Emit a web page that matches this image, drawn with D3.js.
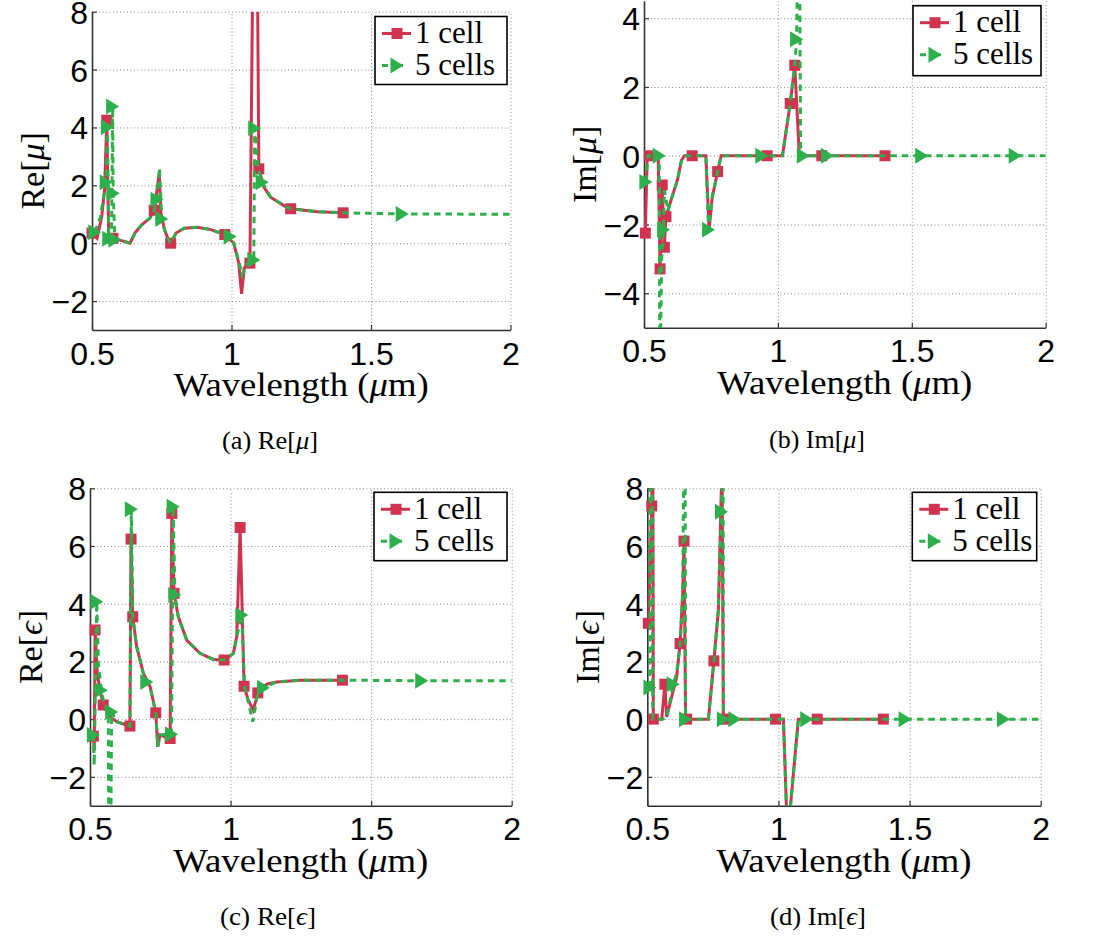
<!DOCTYPE html>
<html>
<head>
<meta charset="utf-8">
<script src="https://cdn.jsdelivr.net/npm/d3@7"></script>
<style>
body { margin: 0; background: #fff; }
svg { display: block; }
</style>
</head>
<body>
<script>
// tick values
var xTicks = [0.5, 1, 1.5, 2];
var muReTicks = [-2, 0, 2, 4, 6, 8];
var muImTicks = [-4, -2, 0, 2, 4];
var epsTicks = [-2, 0, 2, 4, 6, 8];
var seriesNames = ["1 cell", "5 cells"];

// [wavelength (um), value, marker shown?]  values > 8 / < -3 run off the axes
var reMu1 = [
  [0.500, 0.35, 1], [0.518, 0.17, 0], [0.535, 0.92, 0], [0.545, 1.84, 0], [0.553, 4.25, 1],
  [0.560, 0.12, 0], [0.575, 0.17, 1], [0.606, 0.09, 0], [0.636, 0.00, 0], [0.654, 0.35, 0],
  [0.677, 0.63, 0], [0.707, 0.86, 0], [0.723, 1.14, 1], [0.741, 2.40, 0], [0.747, 1.04, 0],
  [0.760, 0.46, 0], [0.772, 0.17, 0], [0.782, 0.00, 1], [0.801, 0.35, 0], [0.831, 0.52, 0],
  [0.878, 0.55, 0], [0.926, 0.47, 0], [0.976, 0.30, 1], [1.008, 0.00, 0], [1.026, -0.69, 0],
  [1.036, -1.75, 0], [1.046, -0.85, 0], [1.066, -0.69, 1], [1.079, 12, 0], [1.091, 12, 0],
  [1.098, 2.57, 1], [1.116, 1.94, 0], [1.140, 1.59, 0], [1.188, 1.30, 0], [1.212, 1.19, 1],
  [1.307, 1.09, 0], [1.400, 1.05, 1]
];
var reMu5 = [
  [0.510, 0.38, 1], [0.530, 0.90, 0], [0.545, 1.80, 0], [0.551, 2.11, 1], [0.555, 4.01, 1],
  [0.560, 0.15, 1], [0.570, 0.20, 0], [0.574, 4.72, 1], [0.576, 1.73, 1], [0.582, 0.12, 1],
  [0.606, 0.09, 0], [0.636, 0.00, 0], [0.654, 0.35, 0], [0.677, 0.63, 0], [0.707, 0.86, 0],
  [0.723, 1.14, 0], [0.733, 1.50, 1], [0.742, 2.60, 0], [0.750, 0.84, 1], [0.760, 0.46, 0],
  [0.772, 0.17, 0], [0.782, 0.00, 0], [0.801, 0.35, 0], [0.831, 0.52, 0], [0.878, 0.55, 0],
  [0.926, 0.47, 0], [0.976, 0.30, 0], [0.995, 0.23, 1], [1.008, 0.00, 0], [1.026, -0.60, 0],
  [1.038, -1.10, 0], [1.050, -0.78, 0], [1.068, -0.62, 0], [1.080, -0.58, 1], [1.083, 3.97, 1],
  [1.095, 2.60, 0], [1.110, 2.11, 1], [1.140, 1.59, 0], [1.188, 1.30, 0], [1.212, 1.19, 0],
  [1.307, 1.09, 0], [1.400, 1.05, 0], [1.612, 1.01, 1], [2.000, 1.00, 0]
];
var imMu1 = [
  [0.505, -2.25, 1], [0.512, 0.00, 0], [0.520, 0.00, 1], [0.553, 0.00, 0], [0.560, -3.29, 1],
  [0.568, -0.85, 1], [0.576, -2.66, 1], [0.582, -1.77, 1], [0.605, -1.19, 0], [0.625, -0.70, 0],
  [0.640, -0.13, 0], [0.651, 0.00, 0], [0.680, 0.00, 1], [0.731, 0.00, 0], [0.743, -2.15, 0],
  [0.755, -1.20, 0], [0.775, -0.46, 1], [0.788, 0.00, 0], [0.960, 0.00, 1], [1.017, 0.00, 0],
  [1.046, 1.52, 1], [1.063, 2.63, 1], [1.080, 0.00, 0], [1.164, 0.00, 1], [1.400, 0.00, 1]
];
var imMu5 = [
  [0.507, -0.76, 1], [0.515, 0.00, 0], [0.557, 0.00, 1], [0.559, -7, 0], [0.566, -3.00, 0],
  [0.573, -2.15, 1], [0.576, -1.00, 0], [0.590, -1.60, 0], [0.605, -1.19, 0], [0.625, -0.70, 0],
  [0.640, -0.13, 0], [0.651, 0.00, 0], [0.731, 0.00, 0], [0.741, -2.15, 1], [0.755, -1.20, 0],
  [0.775, -0.46, 0], [0.788, 0.00, 0], [0.940, 0.00, 1], [1.017, 0.00, 0], [1.046, 1.52, 0],
  [1.063, 2.63, 0], [1.070, 3.39, 1], [1.075, 7, 0], [1.080, 7, 0], [1.085, 0.00, 0],
  [1.095, 0.00, 1], [1.185, 0.00, 1], [1.537, 0.00, 1], [1.886, 0.00, 1], [2.000, 0.00, 0]
];
var reEps1 = [
  [0.512, -0.59, 1], [0.515, -1.10, 0], [0.518, 3.09, 1], [0.526, 1.58, 0], [0.536, 1.00, 0],
  [0.547, 0.49, 1], [0.571, 0.08, 0], [0.595, -0.09, 0], [0.642, -0.24, 1], [0.646, 6.24, 1],
  [0.652, 3.55, 1], [0.666, 2.51, 0], [0.690, 1.58, 0], [0.714, 1.12, 0], [0.734, 0.22, 1],
  [0.741, -0.96, 0], [0.749, -0.55, 0], [0.785, -0.67, 1], [0.791, 7.13, 1], [0.799, 4.36, 1],
  [0.814, 3.55, 0], [0.844, 2.74, 0], [0.891, 2.28, 0], [0.939, 2.07, 0], [0.977, 2.05, 1],
  [1.010, 2.28, 0], [1.022, 2.86, 0], [1.034, 6.64, 1], [1.048, 1.14, 1], [1.063, 0.66, 0],
  [1.081, 0.31, 0], [1.097, 0.91, 1], [1.129, 1.21, 0], [1.164, 1.29, 0], [1.247, 1.35, 0],
  [1.398, 1.35, 1]
];
var reEps5 = [
  [0.512, -0.55, 1], [0.515, -1.60, 0], [0.524, 4.07, 1], [0.530, 1.90, 0], [0.540, 1.00, 1],
  [0.550, 0.55, 0], [0.565, 0.25, 0], [0.568, -7, 0], [0.572, -7, 0], [0.577, 0.25, 1],
  [0.595, -0.09, 0], [0.642, -0.24, 0], [0.647, 7.27, 1], [0.652, 3.55, 0], [0.666, 2.51, 0],
  [0.690, 1.58, 0], [0.702, 1.29, 1], [0.714, 1.12, 0], [0.734, 0.22, 0], [0.741, -0.96, 0],
  [0.749, -0.55, 0], [0.790, -0.52, 1], [0.796, 7.36, 1], [0.802, 4.30, 1], [0.814, 3.55, 0],
  [0.844, 2.74, 0], [0.891, 2.28, 0], [0.939, 2.07, 0], [0.977, 2.05, 0], [1.010, 2.28, 0],
  [1.022, 2.86, 0], [1.040, 3.61, 1], [1.050, 1.10, 0], [1.063, 0.60, 0], [1.079, -0.09, 0],
  [1.095, 0.80, 0], [1.117, 1.09, 1], [1.164, 1.29, 0], [1.247, 1.35, 0], [1.398, 1.35, 0],
  [1.680, 1.33, 1], [2.000, 1.33, 0]
];
var imEps1 = [
  [0.504, 3.32, 1], [0.517, 7.39, 1], [0.519, 10, 0], [0.521, 10, 0], [0.523, 0.00, 1],
  [0.555, 0.00, 0], [0.567, 1.21, 1], [0.574, 0.08, 0], [0.599, 1.00, 0], [0.612, 1.47, 0],
  [0.625, 2.62, 1], [0.635, 4.36, 0], [0.640, 6.17, 1], [0.646, 0.00, 0], [0.650, 0.00, 1],
  [0.733, 0.00, 0], [0.754, 2.02, 1], [0.771, 3.78, 0], [0.785, 9, 0], [0.790, 0.00, 0],
  [0.794, 0.00, 1], [0.989, 0.00, 1], [1.019, 0.00, 0], [1.034, -4, 0], [1.036, -4, 0],
  [1.076, 0.00, 0], [1.148, 0.00, 1], [1.400, 0.00, 1]
];
var imEps5 = [
  [0.510, 1.10, 1], [0.513, 10, 0], [0.518, 10, 0], [0.521, 0.00, 0], [0.555, 0.00, 0],
  [0.574, 0.05, 0], [0.599, 1.21, 1], [0.612, 1.60, 0], [0.625, 2.62, 0], [0.635, 4.36, 0],
  [0.640, 10, 0], [0.644, 10, 0], [0.646, 0.00, 1], [0.733, 0.00, 0], [0.754, 2.02, 0],
  [0.771, 3.78, 0], [0.783, 7.19, 1], [0.786, 10, 0], [0.789, 10, 0], [0.790, 0.00, 1],
  [0.834, 0.00, 1], [1.019, 0.00, 0], [1.034, -4, 0], [1.036, -4, 0], [1.076, 0.00, 0],
  [1.108, 0.00, 1], [1.483, 0.00, 1], [1.858, 0.00, 1], [2.000, 0.00, 0]
];

var config = {
    width: 1108,
    height: 936,
    red: "#d0334f",
    green: "#2db04b",
    serif: "'Liberation Serif', 'DejaVu Serif', serif",
    sans: "'Liberation Sans', Arial, sans-serif"
}

// layout of the four subfigures
var panels = [
    {id: "a", left: 92, right: 510.5, top: 11.7, bottom: 330, yDomain: [-3, 8], yTicks: muReTicks,
     part: "Re", sym: "μ", one: reMu1, five: reMu5, legend: [375, 16.5, 132, 68], caption: [270, 449]},
    {id: "b", left: 644, right: 1045.7, top: 1, bottom: 327.7, yDomain: [-5, 4.5], yTicks: muImTicks,
     part: "Im", sym: "μ", one: imMu1, five: imMu5, legend: [913, 5.7, 128, 70], caption: [817, 448]},
    {id: "c", left: 90, right: 511.7, top: 488.3, bottom: 805.7, yDomain: [-3, 8], yTicks: epsTicks,
     part: "Re", sym: "ϵ", one: reEps1, five: reEps5, legend: [374, 492.3, 133, 68.4], caption: [268, 925]},
    {id: "d", left: 647.3, right: 1040.7, top: 488.3, bottom: 805.7, yDomain: [-3, 8], yTicks: epsTicks,
     part: "Im", sym: "ϵ", one: imEps1, five: imEps5, legend: [912.3, 492.3, 124.4, 68.4], caption: [818, 925]}
]

var styles = [
    {color: config.red, dash: null, marker: "square"},
    {color: config.green, dash: "6.5,5", marker: "triangle"}
]

var svg = d3.select("body").append("svg")
    .attr("width", config.width)
    .attr("height", config.height)

svg.append("rect").attr("width", config.width).attr("height", config.height).attr("fill", "#fff");

panels.forEach(drawPanel);

function markerPath(kind) {
    if (kind == "square") return "M-5.5,-5.5H5.5V5.5H-5.5Z";
    return "M-6.5,-8L6.5,0L-6.5,8Z";
}

function drawPanel(p) {
    var x = d3.scaleLinear().domain([0.5, 2]).range([p.left, p.right]);
    var y = d3.scaleLinear().domain(p.yDomain).range([p.bottom, p.top]);
    var g = svg.append("g").attr("class", "panel-" + p.id);

    g.append("clipPath").attr("id", "clip-" + p.id)
        .append("rect")
        .attr("x", p.left).attr("y", p.top)
        .attr("width", p.right - p.left).attr("height", p.bottom - p.top);

    // dotted grid
    var gridX = g.append("g")
        .attr("transform", "translate(0," + p.bottom + ")")
        .call(d3.axisBottom(x).tickValues(xTicks).tickSize(-(p.bottom - p.top)).tickFormat(""));
    var gridY = g.append("g")
        .attr("transform", "translate(" + p.left + ",0)")
        .call(d3.axisLeft(y).tickValues(p.yTicks).tickSize(-(p.right - p.left)).tickFormat(""));
    [gridX, gridY].forEach(function(gr) {
        gr.select(".domain").remove();
        gr.selectAll(".tick line")
            .attr("stroke", "#8a8a8a")
            .attr("stroke-width", 1)
            .attr("stroke-dasharray", "1,2.5");
    });

    // axes with inward ticks
    var ax = g.append("g")
        .attr("transform", "translate(0," + p.bottom + ")")
        .call(d3.axisBottom(x).tickValues(xTicks).tickSize(-5).tickSizeOuter(0).tickPadding(12).tickFormat(d3.format("")));
    var ay = g.append("g")
        .attr("transform", "translate(" + p.left + ",0)")
        .call(d3.axisLeft(y).tickValues(p.yTicks).tickSize(-5).tickSizeOuter(0).tickPadding(4).tickFormat(d3.format("")));
    [ax, ay].forEach(function(a) {
        a.attr("font-family", config.sans).attr("font-size", 32);
        a.select(".domain").attr("stroke", "#333").attr("stroke-width", 1.6);
        a.selectAll(".tick line").attr("stroke", "#333").attr("stroke-width", 1.2);
        a.selectAll(".tick text").attr("fill", "#000");
    });
    ay.selectAll(".tick text").attr("dy", "0.36em");

    // series: red first, green on top
    var line = d3.line()
        .x(function(d) { return x(d[0]); })
        .y(function(d) { return y(d[1]); });

    [p.one, p.five].forEach(function(data, i) {
        var st = styles[i];
        g.append("path")
            .datum(data)
            .attr("clip-path", "url(#clip-" + p.id + ")")
            .attr("d", line)
            .attr("fill", "none")
            .attr("stroke", st.color)
            .attr("stroke-width", 3)
            .attr("stroke-dasharray", st.dash);
        g.append("g").selectAll("path")
            .data(data.filter(function(d) { return d[2]; }))
            .enter()
            .append("path")
            .attr("transform", function(d) { return "translate(" + x(d[0]) + "," + y(d[1]) + ")"; })
            .attr("d", markerPath(st.marker))
            .attr("fill", st.color);
    });

    // axis labels
    var xl = g.append("text")
        .attr("transform", "translate(" + (p.left + p.right) / 2 + "," + (p.bottom + 66) + ")")
        .attr("text-anchor", "middle")
        .attr("textLength", 255)
        .attr("lengthAdjust", "spacingAndGlyphs")
        .attr("font-family", config.serif)
        .attr("font-size", 33);
    xl.append("tspan").text("Wavelength (");
    xl.append("tspan").attr("font-style", "italic").text("μ");
    xl.append("tspan").text("m)");

    var yl = g.append("text")
        .attr("transform", "translate(" + (p.left - 48) + "," + (p.top + p.bottom) / 2 + ") rotate(-90)")
        .attr("text-anchor", "middle")
        .attr("font-family", config.serif)
        .attr("font-size", 34);
    yl.append("tspan").text(p.part + "[");
    yl.append("tspan").attr("font-style", "italic").text(p.sym);
    yl.append("tspan").text("]");

    // legend
    var L = p.legend;
    var lg = g.append("g").attr("transform", "translate(" + L[0] + "," + L[1] + ")");
    lg.append("rect")
        .attr("width", L[2]).attr("height", L[3])
        .attr("fill", "#fff").attr("stroke", "#000").attr("stroke-width", 1.6);
    seriesNames.forEach(function(name, i) {
        var st = styles[i];
        var ry = 17 + i * 32;
        lg.append("line")
            .attr("x1", 7).attr("x2", 36).attr("y1", ry).attr("y2", ry)
            .attr("stroke", st.color).attr("stroke-width", 3)
            .attr("stroke-dasharray", st.dash ? "6,9" : null);
        lg.append("path")
            .attr("transform", "translate(22," + ry + ")")
            .attr("d", markerPath(st.marker))
            .attr("fill", st.color);
        lg.append("text")
            .attr("x", 40).attr("y", ry + 9.5)
            .attr("font-family", config.serif)
            .attr("font-size", 31)
            .text(name);
    });

    // subfigure caption
    var cap = g.append("text")
        .attr("x", p.caption[0]).attr("y", p.caption[1])
        .attr("text-anchor", "middle")
        .attr("textLength", 96)
        .attr("lengthAdjust", "spacingAndGlyphs")
        .attr("font-family", config.serif)
        .attr("font-size", 25);
    cap.append("tspan").text("(" + p.id + ") " + p.part + "[");
    cap.append("tspan").attr("font-style", "italic").text(p.sym);
    cap.append("tspan").text("]");
}
</script>
</body>
</html>
